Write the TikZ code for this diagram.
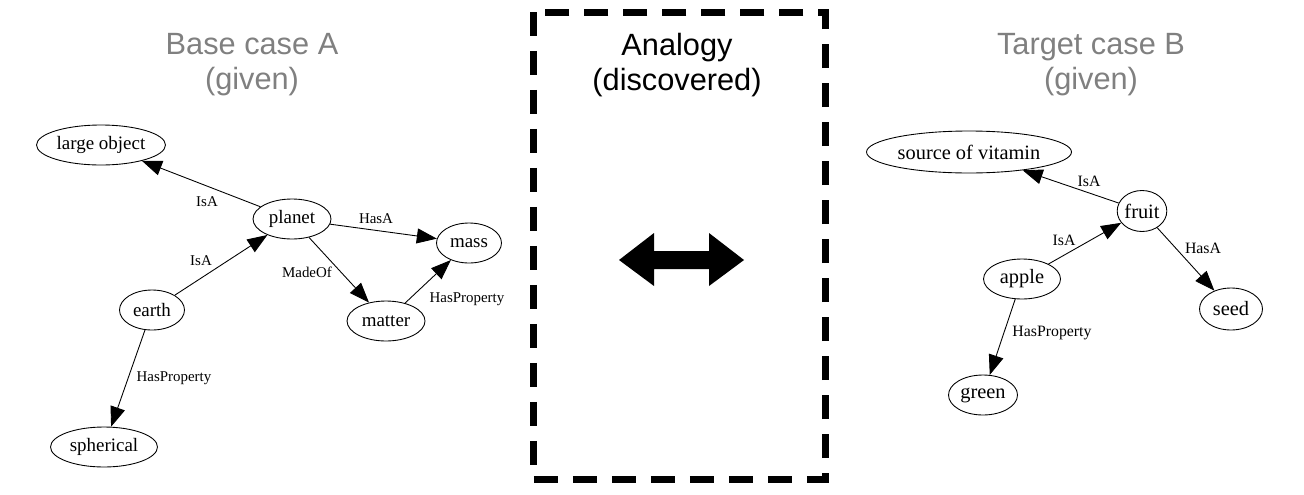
\documentclass[tikz,border=0pt]{standalone}
\usepackage{fontspec}
\setmainfont{Liberation Serif}
\setsansfont{Liberation Sans}
\usetikzlibrary{shapes.geometric,arrows.meta}
\definecolor{titlegray}{RGB}{128,128,128}

\begin{document}
\begin{tikzpicture}[x=0.02cm, y=-0.02cm,
    concept/.style={ellipse, draw, line width=0.5pt, inner sep=0pt, minimum height=0.8cm, font=\fontsize{10.8}{12}\selectfont},
    bigconcept/.style={concept, font=\fontsize{11.6}{13}\selectfont},
    rel/.style={-{Triangle[length=0.4cm, width=0.3cm]}, line width=0.5pt},
    lbl/.style={font=\fontsize{8.5}{10}\selectfont, inner sep=1pt},
    biglbl/.style={lbl, font=\fontsize{9}{10}\selectfont},
    heading/.style={align=center, font=\sffamily\fontsize{17.5}{20}\selectfont}
]
\useasboundingbox (0,0) rectangle (1304,494);

% headings
\node[heading, text=titlegray] (baseh) at (252,65) {Base case A\\(given)};
\node[heading] (analogyh) at (677,65) {Analogy\\(discovered)};
\node[heading, text=titlegray] (targeth) at (1091,65) {Target case B\\(given)};

% base case A
\node[concept, minimum width=2.58cm] (lobj) at (101,145) {large object};
\node[concept, minimum width=1.56cm] (planet) at (292,219) {planet};
\node[concept, minimum width=1.3cm] (mass) at (469,243) {mass};
\node[concept, minimum width=1.3cm] (earth) at (152,310) {earth};
\node[concept, minimum width=1.56cm] (matter) at (386,321) {matter};
\node[concept, minimum width=2.14cm] (spherical) at (104,447) {spherical};

\draw[rel] (planet) -- (lobj) node[lbl] at (207,202) {IsA};
\draw[rel] (earth) -- (planet) node[lbl] at (201,261) {IsA};
\draw[rel] (planet) -- (mass) node[lbl] at (376,219) {HasA};
\draw[rel] (planet) -- (matter) node[lbl] at (307,272) {MadeOf};
\draw[rel] (matter) -- (mass) node[lbl] at (467,299) {HasProperty};
\draw[rel] (earth) -- (spherical) node[lbl] at (174,378) {HasProperty};

% analogy box
\draw[line width=0.14cm, dash pattern=on 0.48cm off 0.3cm] (533,12) rectangle (825,479);
\fill (619,260) -- (654,233) -- (654,251) -- (709,251) -- (709,233) -- (744,260)
    -- (709,286) -- (709,269) -- (654,269) -- (654,286) -- cycle;

% target case B
\node[bigconcept, minimum width=4.1cm, minimum height=0.84cm] (vitamin) at (969,152) {source of vitamin};
\node[bigconcept, minimum width=0.92cm, minimum height=0.82cm] (fruit) at (1142,211) {fruit};
\node[bigconcept, minimum width=1.54cm] (apple) at (1022,279) {apple};
\node[bigconcept, minimum width=1.26cm, minimum height=0.84cm] (seed) at (1231,309) {seed};
\node[bigconcept, minimum width=1.38cm] (green) at (983,395) {green};

\draw[rel] (fruit) -- (vitamin) node[biglbl] at (1089,181) {IsA};
\draw[rel] (apple) -- (fruit) node[biglbl] at (1064,240) {IsA};
\draw[rel] (fruit) -- (seed) node[biglbl] at (1203,248) {HasA};
\draw[rel] (apple) -- (green) node[biglbl] at (1052,333) {HasProperty};
\end{tikzpicture}
\end{document}
